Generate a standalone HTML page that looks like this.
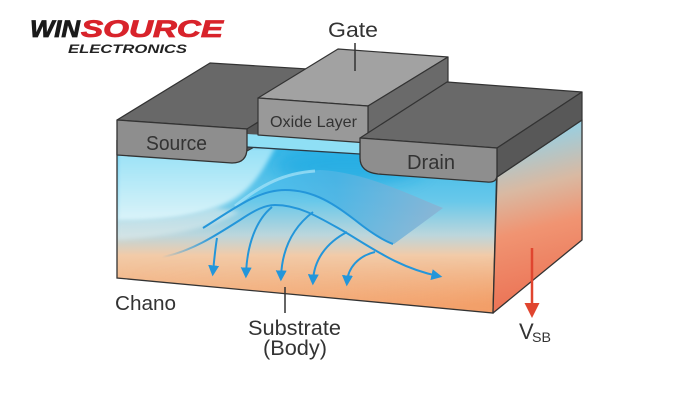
<!DOCTYPE html>
<html><head><meta charset="utf-8"><style>
html,body{margin:0;padding:0;background:#fff;}
svg{display:block;}
text{font-family:"Liberation Sans",sans-serif;}
</style></head><body>
<svg width="700" height="400" viewBox="0 0 700 400" xmlns="http://www.w3.org/2000/svg">
<defs>
  <linearGradient id="front" gradientUnits="userSpaceOnUse" x1="0" y1="150" x2="0" y2="305">
    <stop offset="0" stop-color="#3ab8e8"/>
    <stop offset="0.33" stop-color="#68c8ea"/>
    <stop offset="0.55" stop-color="#bcd6dc"/>
    <stop offset="0.68" stop-color="#f2cba8"/>
    <stop offset="1" stop-color="#f4a872"/>
  </linearGradient>
  <linearGradient id="warm" gradientUnits="userSpaceOnUse" x1="117" y1="0" x2="497" y2="0">
    <stop offset="0" stop-color="#f6c8a0" stop-opacity="0"/>
    <stop offset="1" stop-color="#f0905a" stop-opacity="0.45"/>
  </linearGradient>
  <linearGradient id="warmv" gradientUnits="userSpaceOnUse" x1="0" y1="200" x2="0" y2="310">
    <stop offset="0" stop-color="#fff" stop-opacity="0"/>
    <stop offset="0.5" stop-color="#fff" stop-opacity="0"/>
    <stop offset="1" stop-color="#fff" stop-opacity="1"/>
  </linearGradient>
  <mask id="lowmask"><rect x="0" y="0" width="700" height="400" fill="url(#warmv)"/></mask>
  <linearGradient id="swirl" gradientUnits="userSpaceOnUse" x1="0" y1="150" x2="0" y2="222">
    <stop offset="0" stop-color="#98e1f7"/>
    <stop offset="1" stop-color="#dcf4f9"/>
  </linearGradient>
  <linearGradient id="sheet" gradientUnits="userSpaceOnUse" x1="230" y1="0" x2="443" y2="0">
    <stop offset="0" stop-color="#4cc4f0"/>
    <stop offset="0.5" stop-color="#4db4e4"/>
    <stop offset="1" stop-color="#8cb2d2"/>
  </linearGradient>
  <linearGradient id="side" gradientUnits="userSpaceOnUse" x1="520" y1="130" x2="560" y2="290">
    <stop offset="0" stop-color="#8fd2ea"/>
    <stop offset="0.35" stop-color="#d9b9a2"/>
    <stop offset="0.6" stop-color="#f09472"/>
    <stop offset="1" stop-color="#ec7658"/>
  </linearGradient>
  <linearGradient id="fade" gradientUnits="userSpaceOnUse" x1="162" y1="0" x2="215" y2="0">
    <stop offset="0" stop-color="#2396da" stop-opacity="0"/>
    <stop offset="1" stop-color="#2396da" stop-opacity="1"/>
  </linearGradient>
  <filter id="blur" x="-20%" y="-20%" width="140%" height="140%"><feGaussianBlur stdDeviation="2"/></filter>
  <filter id="blur6" x="-50%" y="-50%" width="200%" height="200%"><feGaussianBlur stdDeviation="8"/></filter>
  <marker id="ah" viewBox="0 0 10 10" refX="6" refY="5" markerUnits="userSpaceOnUse" markerWidth="11" markerHeight="11" orient="auto">
    <path d="M0,0 L10,5 L0,10 Z" fill="#2396da"/>
  </marker>
  <clipPath id="fclip"><path d="M117,140 L497,160 L493,313 L117,278 Z"/></clipPath>
</defs>

<!-- Logo -->
<text x="30" y="37" font-size="24" font-weight="bold" font-style="italic" textLength="50" lengthAdjust="spacingAndGlyphs" fill="#1a1a1a" stroke="#1a1a1a" stroke-width="0.8">WIN</text>
<text x="81" y="37" font-size="24" font-weight="bold" font-style="italic" textLength="142" lengthAdjust="spacingAndGlyphs" fill="#d8232b" stroke="#d8232b" stroke-width="0.8">SOURCE</text>
<text x="68" y="53" font-size="11.5" font-weight="bold" font-style="italic" textLength="119" lengthAdjust="spacingAndGlyphs" fill="#222">ELECTRONICS</text>

<!-- Front face -->
<g clip-path="url(#fclip)">
  <rect x="100" y="130" width="420" height="200" fill="url(#front)"/>
  <rect x="100" y="130" width="420" height="200" fill="url(#warm)" mask="url(#lowmask)"/>
  <ellipse cx="350" cy="166" rx="75" ry="20" fill="#14a6e0" opacity="0.6" filter="url(#blur6)"/>
  <path d="M117,148 L276,146 C262,172 250,196 215,208 C185,219 150,221 117,221 Z" fill="url(#swirl)" filter="url(#blur)"/>
  <path d="M117,221 C150,221 185,219 215,208 L240,212 C205,232 150,238 117,240 Z" fill="#e3eeee" opacity="0.55" filter="url(#blur)"/>
  <!-- sheet -->
  <path d="M240,202 C262,182 290,172 320,170 C365,172 410,195 443,208 L394,244 C375,236 360,224 343,212 C322,198 302,190 285,190 C265,190 252,196 240,202 Z" fill="url(#sheet)" opacity="0.85"/>
  <path d="M235,206 C262,184 285,173 315,171" fill="none" stroke="#a8e4f8" stroke-width="3" opacity="0.7"/>
</g>
<!-- front outline -->
<path d="M117,140 L117,278 L493,313 L497,160" fill="none" stroke="#333" stroke-width="1.3"/>

<!-- Side face -->
<path d="M497,177 L582,120 L582,240 L493,313 Z" fill="url(#side)" stroke="#333" stroke-width="1.3" stroke-linejoin="round"/>

<!-- Flow lines -->
<path d="M203,228 C235,208 258,190 285,190 C315,190 335,205 355,220 C370,232 382,240 393,244" fill="none" stroke="#2396da" stroke-width="2"/>
<path d="M162,257 C190,252 215,236 240,220 C255,210 265,205 275,205 C300,205 320,218 345,232 C375,250 400,268 438,276" fill="none" stroke="url(#fade)" stroke-width="2" marker-end="url(#ah)"/>
<path d="M217,238 C215,250 214,262 213,272" fill="none" stroke="#2396da" stroke-width="2" marker-end="url(#ah)"/>
<path d="M272,207 C256,220 247,245 246,274" fill="none" stroke="#2396da" stroke-width="2" marker-end="url(#ah)"/>
<path d="M313,212 C292,228 282,250 281,277" fill="none" stroke="#2396da" stroke-width="2" marker-end="url(#ah)"/>
<path d="M347,232 C326,243 314,260 313,281" fill="none" stroke="#2396da" stroke-width="2" marker-end="url(#ah)"/>
<path d="M375,252 C358,256 348,268 347,282" fill="none" stroke="#2396da" stroke-width="2" marker-end="url(#ah)"/>

<!-- Source block -->
<path d="M117,120 L210,63 L340,71 L247,129 Z" fill="#686868" stroke="#333" stroke-width="1.2" stroke-linejoin="round"/>
<path d="M247,129 L262,120 L262,143 L247,151 Z" fill="#555" stroke="#333" stroke-width="1"/>

<!-- Channel strip -->
<path d="M247,134 L360,141 L360,154 L247,147 Z" fill="#8fdff5"/>
<path d="M247,147 L360,154" stroke="#2d3a44" stroke-width="1.3"/>

<path d="M117,120 L247,129 L247,148 Q247,163 232,163 L117,155 Z" fill="#8e8e8e" stroke="#333" stroke-width="1.3" stroke-linejoin="round"/>
<text x="146" y="150" font-size="20" textLength="61" lengthAdjust="spacingAndGlyphs" fill="#333">Source</text>

<!-- Gate / Oxide -->
<path d="M258,98 L338,49 L448,57 L368,106 Z" fill="#a2a2a2" stroke="#333" stroke-width="1.2" stroke-linejoin="round"/>
<path d="M368,106 L448,57 L448,92 L368,143 Z" fill="#6a6a6a" stroke="#333" stroke-width="1.2" stroke-linejoin="round"/>
<path d="M258,98 L368,106 L368,143 L258,135 Z" fill="#999" stroke="#333" stroke-width="1.2" stroke-linejoin="round"/>
<text x="270" y="127" font-size="16" textLength="87" lengthAdjust="spacingAndGlyphs" fill="#333">Oxide Layer</text>
<line x1="355" y1="43" x2="355" y2="71" stroke="#333" stroke-width="1.5"/>
<text x="328" y="37" font-size="21" textLength="50" lengthAdjust="spacingAndGlyphs" fill="#333">Gate</text>

<!-- Drain block -->
<path d="M360,138 L447,82 L582,92 L497,148 Z" fill="#696969" stroke="#333" stroke-width="1.2" stroke-linejoin="round"/>
<path d="M497,148 L582,92 L582,120 L497,177 Z" fill="#585858" stroke="#333" stroke-width="1.2" stroke-linejoin="round"/>
<path d="M360,138 L497,148 L497,175 Q497,183 487,182 L378,174 Q360,172 360,158 Z" fill="#8e8e8e" stroke="#333" stroke-width="1.3" stroke-linejoin="round"/>
<text x="407" y="169" font-size="20" textLength="48" lengthAdjust="spacingAndGlyphs" fill="#333">Drain</text>

<!-- Labels -->
<text x="115" y="310" font-size="20" textLength="61" lengthAdjust="spacingAndGlyphs" fill="#333">Chano</text>
<line x1="285" y1="287" x2="285" y2="313" stroke="#333" stroke-width="1.5"/>
<text x="248" y="335" font-size="21" textLength="93" lengthAdjust="spacingAndGlyphs" fill="#333">Substrate</text>
<text x="263" y="355" font-size="21" textLength="64" lengthAdjust="spacingAndGlyphs" fill="#333">(Body)</text>

<!-- VSB -->
<line x1="532" y1="248" x2="532" y2="306" stroke="#e0452f" stroke-width="2.5"/>
<path d="M524.5,303 L539.5,303 L532,318 Z" fill="#e0452f"/>
<text x="519" y="339" font-size="22" fill="#333">V</text>
<text x="532" y="342" font-size="14" textLength="19" lengthAdjust="spacingAndGlyphs" fill="#333">SB</text>
</svg>
</body></html>
